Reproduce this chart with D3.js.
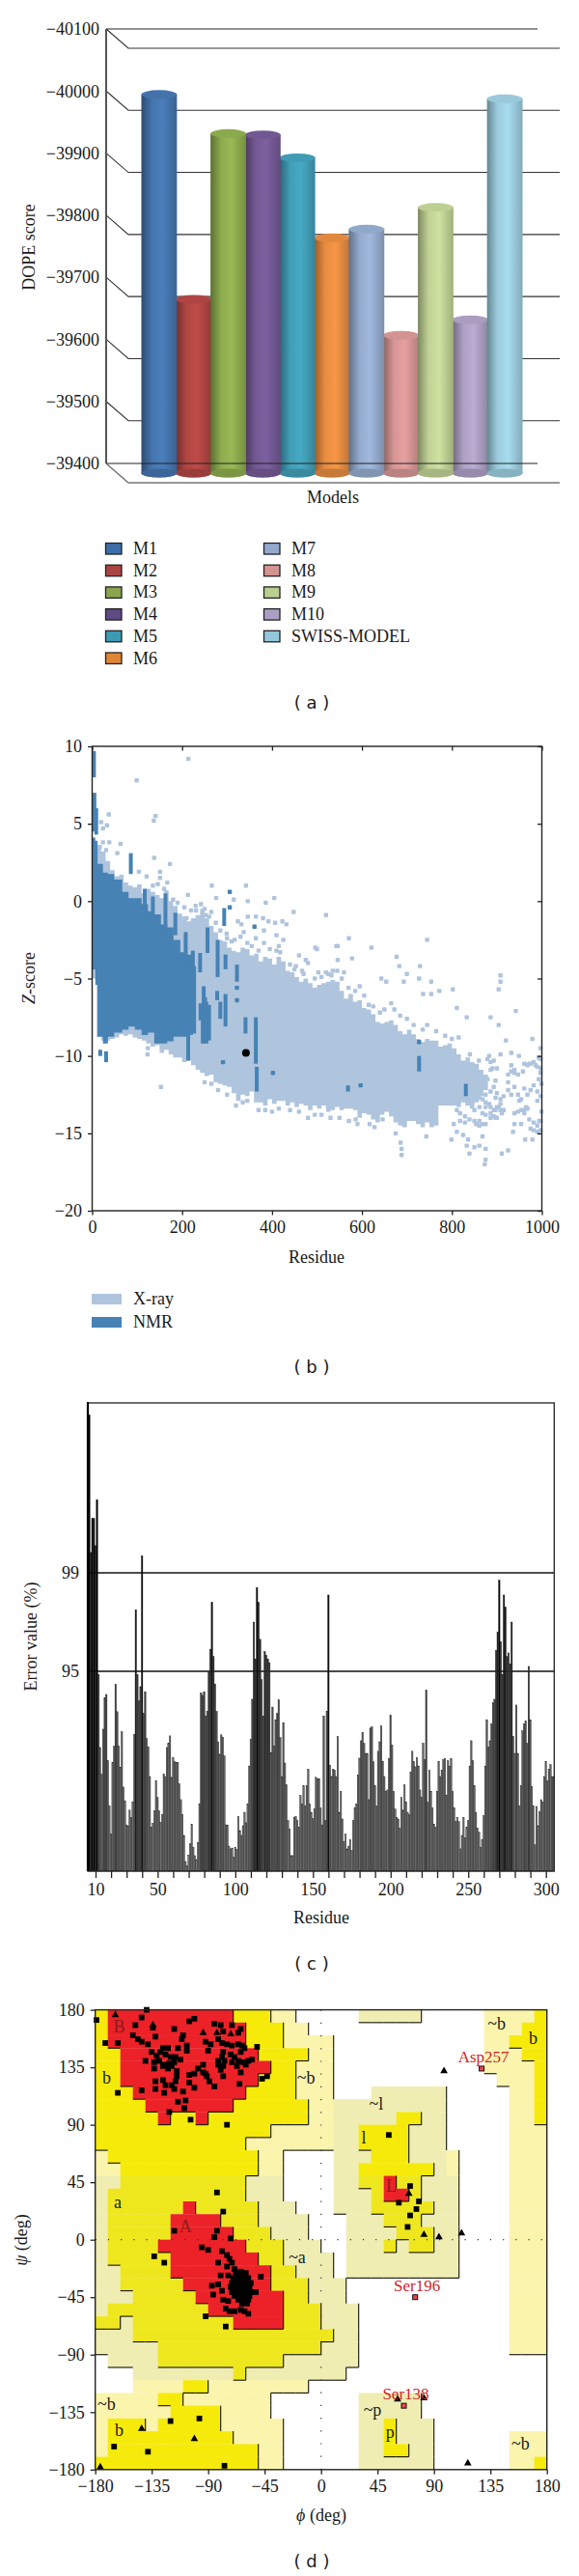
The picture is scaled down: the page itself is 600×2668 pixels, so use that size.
<!DOCTYPE html>
<html>
<head>
<meta charset="utf-8">
<script src="https://d3js.org/d3.v7.min.js"></script>
<style>
	html, body { margin: 0; padding: 0; background: #fff; }
	svg { display: block; }
	text { font-family: "Liberation Serif", serif; font-size: 18px; fill: #1a1a1a; }
	.caption { font-family: "DejaVu Sans", sans-serif; text-anchor: middle; dominant-baseline: central; white-space: pre; }
	.domain { display: none; }
</style>
</head>
<body>
<svg></svg>
<script>
// (a) DOPE score
const modelNames = ['M1', 'M2', 'M3', 'M4', 'M5', 'M6', 'M7', 'M8', 'M9', 'M10', 'SWISS-MODEL'];
const modelValues = [-40010, -39680, -39947, -39945, -39908, -39779, -39793, -39622, -39828, -39647, -40003];
const modelColors = ['#4a7ebb', '#be4b48', '#98b954', '#7d60a0', '#46aac5', '#f79646', '#a0b8dd', '#e6a1a0', '#cfe2a0', '#baacd2', '#a7dcef'];
const legendColors = ['#3e6ea9', '#aa4442', '#89a54e', '#5f4a84', '#3c9ab2', '#e08535', '#93a9d0', '#d49492', '#b8cf90', '#ac9fc5', '#93c7dc'];
const dopeTicks = [-40100, -40000, -39900, -39800, -39700, -39600, -39500, -39400];

// (b) Z-score, dense clouds kept as upper/lower envelopes per residue bin
const xrayResidue = d3.range(0, 890, 10);
const xrayUpper = [3, 3.6, 3.2, 2.6, 2, 1.6, 1.7, 1.2, 1, 0.9, 1.1, 0.5, 0.8, 0.6, 0.4, 0.2, 0.7, 0, -0.3, -0.8, -1, -1.3, -1.1, -0.9, -0.5, -1.1, -1.6, -2, -2.5, -2.6, -3, -3.2, -3.3, -3, -3.1, -3.5, -3.4, -3.9, -3.6, -3.7, -4.1, -3.6, -3.9, -4.5, -4.6, -4.9, -5.2, -5, -5.3, -5.6, -5.4, -5.3, -5.2, -5.1, -5.2, -5.8, -6.3, -6, -6.5, -6.4, -6.9, -7, -7.3, -7.8, -7.9, -7.8, -7.7, -8, -8.4, -8.6, -8.3, -8.6, -8.9, -9.1, -8.9, -9, -9, -9.4, -9.3, -9.2, -9.5, -9.9, -10.3, -10.1, -10.4, -10.5, -10.9, -11.2, -11.3];
const xrayLower = [-5, -8.75, -9, -9, -8.9, -8.8, -8.6, -8.7, -8.6, -8.8, -8.9, -9, -9.2, -9.4, -9.3, -9.8, -9.6, -9.9, -10.1, -10.1, -10.4, -10.3, -10.6, -10.9, -11.1, -11.3, -11.2, -11.7, -11.8, -11.9, -12, -12.4, -12.9, -12.5, -12.6, -12.3, -13, -13, -13.2, -12.8, -13.1, -12.9, -12.9, -13.2, -13, -13.3, -13.1, -13.2, -13.5, -13.2, -13.4, -13.2, -13.6, -13.5, -13.3, -13.5, -13.4, -13.4, -13.5, -14, -13.7, -13.8, -14.1, -14.3, -13.8, -13.6, -13.9, -14.3, -14.5, -14.6, -14.2, -14.2, -14.4, -14.6, -14.3, -14.6, -14.5, -13.2, -13.2, -13.2, -13.2, -13.3, -13, -13.2, -13.4, -13, -12.6, -12.2, -11.8];
const xrayPoints = [[214, 9.2], [99, 7.8], [37, 5.6], [141, 5.5], [137, 5.2], [20, 5.1], [33, 4.9], [24, 4.7], [63, 3.7], [38, 3.8], [24, 3.8], [17, 3.5], [31, 3.3], [56, 3.1], [138, 2.8], [173, 2.4], [104, 1.9], [151, 1.9], [121, 1.6], [151, 1.5], [135, 1], [146, 1.1], [167, 1.2], [160, 0.8], [266, 1], [342, 1], [405, 0.2], [276, 0.2], [315, 0.1], [346, 0], [386, -0.1], [213, 0.4], [448, -0.7], [520, -0.9], [364, -1], [346, -1], [324, -1.3], [332, -1.5], [380, -1.1], [392, -1.3], [407, -1.4], [423, -1.3], [432, -1.5], [242, -0.2], [231, -0.6], [253, -0.9], [210, -1.1], [224, -1.3], [239, -1.4], [265, -0.7], [382, -1.9], [410, -2.2], [425, -2.5], [382, -2.7], [317, -2.5], [337, -2], [299, -2.1], [364, -2.4], [543, -2.9], [496, -3], [460, -3.5], [475, -3.8], [453, -4.2], [467, -4.5], [503, -4.6], [532, -4.8], [480, -4], [153, -12], [124, -9.5], [123, -9.9],
	[571, -2.4], [745, -2.5], [500, -3.1], [546, -2.9], [621, -3], [677, -3.6], [546, -3.8], [578, -3.7], [683, -4.2], [729, -4.2], [700, -4.7], [693, -5.2], [643, -5], [654, -5.2], [727, -5], [754, -5.2], [772, -5.8], [754, -6], [736, -6], [802, -5.7], [908, -4.8], [908, -5.2], [904, -5.7], [811, -6.9], [833, -7.5], [886, -7.5], [904, -8], [942, -7.1], [920, -9], [979, -8.9], [997, -9.5], [883, -10], [908, -9.9], [932, -9.8], [949, -10], [975, -10.5], [997, -10.8], [886, -10.4], [900, -10.8], [932, -11], [897, -11.6], [925, -11.7], [961, -12.1], [993, -11.5], [872, -11.9], [875, -12.5], [897, -12.7], [932, -12.5], [950, -12.9], [990, -12.9], [875, -13.3], [897, -13.5], [961, -13.5], [972, -14.1], [994, -14.2], [868, -14.4], [897, -14], [939, -14.4], [954, -14.4], [975, -14.7], [997, -14.8], [936, -14.9], [963, -15.4], [979, -15.4], [799, -15.4], [743, -15.2], [811, -14.9], [825, -15.1], [836, -15.4], [868, -15.2], [850, -15.9], [875, -16], [839, -16.3], [875, -16.7], [873, -17], [911, -16.3], [925, -16.1], [686, -15.6], [688, -16], [688, -16.4], [675, -15], [833, -15.8], [861, -15.8], [804, -14.4], [818, -14.2], [854, -14.4], [886, -13.7], [904, -13.3], [911, -13.7], [883, -13.1], [879, -10.2], [890, -10.8], [925, -11.2], [939, -11.1], [958, -11], [972, -10.5], [986, -10.6], [993, -10.1], [997, -11.1], [861, -12.7], [868, -13.7], [861, -14.2], [954, -13.5], [965, -13.3], [939, -13.7], [571, -14.2], [586, -14.1], [617, -14.4], [628, -14.6], [646, -14.1], [999, -11.8], [999, -13.6],
	[893, -10.3], [886, -10.9], [932, -10.6], [939, -10.9], [947, -11.2], [961, -10.5], [968, -10.6], [982, -10.4], [990, -10.7], [997, -10.2], [886, -13.3], [893, -13.5], [900, -13.3], [908, -13.5], [915, -13.5], [893, -13.9], [900, -14], [908, -13.1], [886, -14], [961, -13.7], [968, -13.4], [947, -13.6], [982, -14.3], [990, -14.5], [997, -14.2], [982, -14.8], [990, -14.9], [875, -14.4], [861, -14.5], [850, -14.2], [839, -14.1], [829, -13.9], [818, -13.7], [811, -13.5], [829, -14.3], [875, -13.8], [850, -13.5], [861, -13.3], [875, -13], [868, -12.8], [886, -12.3], [879, -11.5], [893, -12], [900, -12.4], [908, -12.8], [915, -12.6], [925, -12.2], [939, -12], [947, -12.5], [954, -12.8], [968, -12.5], [975, -12.2], [982, -11.9], [990, -12.3], [997, -12.6],
	[410, -3.2], [418, -3.3], [415, -2.9], [440, -4.1], [450, -4.4], [470, -4.7], [495, -5], [510, -4.9], [520, -4.6], [525, -4.7], [535, -4.5], [545, -4.5], [555, -5], [560, -4.6], [570, -5.6], [585, -5.8], [595, -5.5], [605, -6.1], [615, -6.7], [625, -6.8], [640, -7.2], [650, -7], [665, -6.6], [672, -7], [685, -7.4], [700, -7.6], [715, -8], [735, -8.3], [745, -8], [765, -8.4], [785, -8.7], [800, -8.9], [815, -8.8], [840, -9.9], [860, -10.3],
	[180, 0.1], [190, -0.1], [205, -0.4], [220, -0.6], [230, -0.3], [250, -0.5], [260, -1], [275, -1.4], [285, -1.9], [300, -2.4], [310, -2.6], [330, -2.3], [345, -2.7], [355, -2.9], [370, -3.2], [395, -3.1],
	[250, -11.7], [265, -11.8], [280, -12.2], [300, -12.5], [320, -13.2], [335, -13], [345, -12.9], [370, -13.5], [385, -13.5], [400, -13.6], [415, -13.4], [440, -13.5], [460, -13.6], [480, -14], [495, -13.8], [510, -13.8], [530, -14], [550, -14], [590, -14.4]];
const nmrResidue = [0, 7, 12, 24, 35, 49, 67, 81, 95, 110, 124, 138, 153, 167, 181, 196, 210, 224, 231];
const nmrUpper = [4.1, 3.9, 2.4, 1.85, 1.75, 1.4, 0.6, 0.2, 0.2, -0.2, -0.65, -0.85, -1.5, -1.7, -2.5, -3.3, -3.45, -4.2, -5.4];
const nmrLower = [-4.4, -5.4, -8.75, -9.2, -8.75, -8.5, -8.3, -8.1, -8.3, -8.65, -8.5, -9.2, -9.2, -9.05, -8.75, -8.75, -8.65, -8.55, -7.7];
// vertical runs of NMR structures: residue, top, bottom
const nmrStrips = [[4, 9.7, 8], [5, 7, 4.5], [9, 6, 4.3], [86, 3.1, 1.75], [117, 0.8, -0.65], [135, 0.3, -1.3], [163, 0.5, -2.1], [185, -0.75, -2.2], [208, -2, -4.6], [224, -3.2, -5], [240, -3.35, -4.6], [256.5, -1.7, -3.35], [279, -2.5, -4.9], [296.5, -3.45, -4.4], [293.6, -0.45, -1.6], [322, -4.1, -5.2], [213.5, -8.55, -10.3], [248, -5.5, -7.1], [260, -6.7, -9], [246, -6.7, -9.2], [254, -6.5, -9.2], [241, -6.6, -7.7], [251, -6.2, -9], [278, -5.8, -6.4], [285, -6.5, -7.6], [296.5, -6, -8.1], [341, -7.5, -8.55], [364, -7.5, -10.5], [366, -10.7, -12.3], [31, -9.7, -10.4], [18, -9.6, -10], [569, -11.9, -12.3], [727, -10, -11], [831, -11.8, -12.6]];
const nmrPoints = [[291, -10.4], [402, -11.1], [361, -1.65], [306, 0.6], [306, -0.4], [322, -6.4], [322, -5.6], [597, -11.9], [727, -9.1]];
const queryPoint = [[342, -9.8]];

// (c) error value per residue, residue 6 onwards
const errorValues = [99.93, 99.12, 99.32, 99.32, 99.16, 99.43, 93.5, 58.8, 46, 67.5, 82.5, 84, 52.5, 31, 17.7, 51.7, 59.3, 88.8, 75.8, 59.6, 49.3, 66.2, 40, 33.5, 22, 21.6, 29, 25.6, 32.7, 65, 97.5, 93.5, 81, 87.7, 99.1, 75, 85.3, 63, 59, 45, 21, 22.8, 28.8, 43, 35, 28.6, 23.2, 27, 46, 45, 58.8, 60.7, 64.3, 44.6, 54, 52, 51.7, 51.7, 41.4, 34, 27, 17, 4.6, 2.4, 7.7, 13, 22.4, 11.4, 7.4, 5.5, 13.7, 32, 84.8, 83.6, 85.3, 73.8, 76, 95, 95.9, 97.8, 95.6, 89, 76, 61.5, 55.6, 64.8, 63.7, 54.8, 22, 22, 11.9, 10.6, 11, 6.6, 11.4, 10.3, 26, 19.3, 17, 21.6, 28, 23, 32, 50, 62.7, 81.7, 97, 95.5, 98.4, 97.8, 96.3, 91, 73.8, 95.8, 95.65, 95.5, 95.35, 56.4, 78, 59.6, 72, 75, 81.4, 63.5, 45, 70.6, 51.4, 41, 24, 20, 7.4, 7.4, 25.6, 26, 24, 21, 36, 32, 40.6, 31, 40.6, 48.5, 32, 28, 25, 29.5, 44.6,
	44, 44, 30, 22, 73.8, 24, 76, 98.1, 50.4, 45, 48.5, 48, 45, 64, 28, 38, 24.8, 14, 17.7, 10.6, 11.9, 15, 9.8, 24, 30, 32, 45.8, 53.7, 62, 66, 60.7, 56, 56, 34, 68, 68.6, 52, 40.6, 31, 57, 61.5, 69, 52, 45, 38, 38.6, 53.6, 74, 60, 38, 29.5, 25.6, 24.8, 20.5, 35, 29, 41, 33, 28, 27, 47, 57, 52, 49.6, 54, 50, 38.6, 35, 60.8, 53, 86, 32.7, 48, 38, 30, 22.4, 21, 38, 52, 45, 48, 53, 53.6, 36, 52.5, 50, 53.6, 38, 30, 23.7, 25.6, 23.5, 10.6, 17, 25.6, 15.8, 20.9, 24, 50, 62, 52.5, 40.6, 28, 20.5, 18.5, 11.4, 15, 26.4, 50, 72, 59, 62, 70, 80, 81.7, 95.85, 96.6, 98.7, 96.2, 93.5, 98.1, 97.6, 95.6, 95.75, 95.3, 97, 64, 56, 79, 56, 31, 40.6, 66.7, 70, 71.4, 60.7, 95.2, 72, 40.3, 31, 12.5, 30.8, 21.6, 28.4, 34, 33, 45, 52, 43, 48.5, 50.6, 45, 45];
const errorResidue = errorValues.map((d, i) => 6 + i);
const errorLabelTicks = [10, 50, 100, 150, 200, 250, 300];
const errorMinorTicks = d3.range(10, 310, 10);
const errorLines = [95, 99];

// (d) Ramachandran: 10 degree cells, psi 180 at the top, phi -180 at the left.
// . outside, p generous, y allowed, r most favoured
const ramaRows = [
	'yrrrrr rrrrry yypp.. ...ppp pp.... .ppppy',
	'yrrrrr rrrrrr yyypp. ...... ...... .pppyy',
	'yrrrrr rrrrrr yyyppp p..... ...... .ppyyy',
	'yyrrrr rrrrrr ryyyyp p..... ...... .pppyy',
	'yyrrrr rrrrrr rryypp p..... ...... .ppppy',
	'yyrrrr rrrrrr ryyypp p..... ...... ..pppy',
	'yyyrrr rrrrrr yyyypp p...pp pppp.. ...ppy',
	'yyyyrr rrrrry yyyyyp pppppp pppp.. ...ppy',
	'yyyyyr yyryyy yyyyyp pppppp yypp.. ...ppy',
	'yyyyyy yyyyyy yypppp pppyyy yppp.. ...ppp',
	'yyyyyy yyyyyy pppppp pppyyy yppp.. ...ppp',
	'pyyyyy yyyyyy ypp... .pppyy ypppp. ...ppp',
	'ppyyyy yyyyyy ypp... .ppyyy yyypp. ...ppp',
	'ppyyyy yyyyyy ppp... .ppyyr yyppp. ...ppp',
	'pyyyyy yyyyyy ppp... .pppyr ryppp. ...ppp',
	'pyyyyy yryyyy yppp.. .pppyy yyypp. ...ppp',
	'pyyyyy rrrryy ypppp. ..pppy yyppp. ...ppp',
	'pyyyyy rrrrry yyppp. ..pppp yyypp. ...ppp',
	'pyyyyr rrrrrr yyyppp ..pppy pyypp. ...ppp',
	'pyyyyy rrrrrr ryyppp p.pppp ppppp. ...ppp',
	'ppyyyy rrrrrr rryypp p.pppp ppppp. ...ppp',
	'ppyyyy yrrrrr rryyyp pp.... ...... ...ppp',
	'pppyyy yyrrrr rrryyp pp.... ...... ...ppp',
	'pyyyyy yyyrrr rrryyy ppp... ...... ...ppp',
	'yypyyy yyyyyr rrryyy ppp... ...... ...ppp',
	'pppyyy yyyyyy yyyyyy ypp... ...... ...ppp',
	'pppppy yyyyyy yyyyyy ppp... ...... ...ppp',
	'.ppppy yyyyyy yyyppp ppp... ...... ......',
	'...ppp pppppy pppppp pp.... ...... ......',
	'...ppp pyyppp ppppp. ...... ...... ......',
	'pppppy yppppp pp.... ...ppp pp.... ......',
	'pppppp yyyypp pp.... ...ppp pp.... ......',
	'pyyypy yyyypp ppp... ...ppy ppp... ......',
	'pyyyyy yyyyyp ppp... ...ppy ppp... ...ppp',
	'pyyyyy yyyyyy ypp... ...ppy ypp... ...ppp',
	'yyyyyy yyyyyy ypp... ...ppp ppp... ...ppy'
];
const residueSquares = [[-179, 172], [-139, 180], [-143, 174], [-148, 168], [-134, 166], [-150, 160], [-132, 159], [-117, 165], [-105, 171], [-101, 173], [-85, 169], [-80, 168], [-71, 168], [-64, 165], [-66, 162], [-78, 163], [-110, 160], [-111, 157], [-172, 154], [-162, 154], [-146, 157], [-143, 155], [-138, 153], [-92, 155], [-88, 153], [-82, 157], [-79, 154], [-75, 153], [-71, 152], [-66, 153], [-63, 152], [-51, 151], [-107, 152], [-107, 148], [-114, 150], [-126, 150], [-122, 150], [-135, 147], [-131, 144], [-128, 147], [-124, 145], [-120, 143], [-116, 143], [-112, 141], [-140, 140], [-133, 139], [-129, 140], [-125, 137], [-121, 138], [-117, 139], [-133, 134], [-126, 136], [-122, 134], [-119, 136], [-115, 132], [-90, 148], [-78, 147], [-72, 145], [-69, 143], [-64, 147], [-61, 150], [-79, 143], [-82, 140], [-77, 140], [-71, 139], [-66, 140], [-62, 139], [-58, 140], [-55, 141], [-82, 137], [-78, 136], [-67, 136], [-64, 131], [-60, 137], [-80, 133], [-78, 128], [-65, 122], [-94, 137], [-98, 134], [-101, 130], [-105, 129], [-94, 131], [-91, 128], [-92, 130], [-105, 123], [-101, 119], [-89, 124], [-85, 120], [-115, 128], [-116, 124], [-119, 121], [-132, 124], [-126, 125], [-124, 121], [-132, 118], [-143, 117], [-125, 115], [-117, 118], [-110, 116], [-114, 108], [-108, 109], [-109, 103], [-121, 100], [-104, 94], [-75, 90], [-162, 115], [-47, 126], [-43, 128],
	[-83, 37], [-78, 22], [-117, 7], [-83, 7], [-85, 2], [-72, 1], [-133, -13], [-125, -18], [-95, -6], [-90, -8], [-79, -9], [-75, -12], [-73, -15], [-71, -18], [-82, -18], [-75, -21], [-69, -23], [-80, -28], [-74, -28], [-87, -36], [-82, -35], [-79, -40], [-86, -43], [-78, -47], [-74, -48], [-76, -54], [-73, -56], [-69, -56], [-64, -55], [-61, -56], [-58, -58], [-92, -60], [-76, -68], [-48, -29], [-52, -41],
	[-68, -26], [-64, -25], [-60, -26], [-70, -30], [-66, -29], [-62, -29], [-58, -30], [-71, -34], [-67, -33], [-63, -33], [-59, -33], [-56, -34], [-72, -37], [-68, -37], [-64, -37], [-60, -37], [-57, -38], [-71, -41], [-67, -40], [-63, -41], [-59, -41], [-56, -41], [-69, -44], [-65, -44], [-61, -44], [-57, -44], [-66, -47], [-62, -47], [-58, -47], [-63, -50], [-59, -50],
	[-120, -142], [-97, -140], [-165, -162], [-138, -166], [-77, -177], [54, 82], [71, 42], [62, 29], [78, 30], [76, 24], [71, 19], [69, 10]];
const residueTriangles = [[-164, 176], [-134, 168], [-94, 162], [-83, 162], [-72, 161], [-143, -148], [-101, -156], [-176, -178], [70, 36], [82, 4], [94, 2], [112, 5], [98, 132], [117, -175], [61, -125], [82, -124]];
const outliers = [['Asp257', 128, 134], ['Ser196', 75, -45], ['Ser138', 66, -130]];
const regionLabels = [['B', -161, 167], ['b', -171, 127], ['a', -162, 29], ['A', -108, 10], ['~b', -12, 127], ['~a', -19, -14], ['~b', -171, -129], ['b', -161, -149], ['~b', 140, 169], ['b', 169, 158], ['~l', 44, 106], ['l', 34, 80], ['L', 56, 42], ['~p', 41, -133], ['p', 55, -151], ['~b', 159, -160]];
const ramaTicks = [-180, -135, -90, -45, 0, 45, 90, 135, 180];

const svg = d3.select('svg')
	.attr('width', 600)
	.attr('height', 2668);
const defs = svg.append('defs');

const caption = (label, y) => svg.append('text')
	.attr('class', 'caption')
	.attr('x', 323)
	.attr('y', y)
	.text(`( ${label} )`);

const yLabel = (g, x, y) => g.append('text')
	.attr('transform', `translate(${x}, ${y}) rotate(-90)`)
	.attr('text-anchor', 'middle')
	.attr('dominant-baseline', 'central');

const centerText = (x, y, text) => svg.append('text')
	.attr('x', x)
	.attr('y', y)
	.attr('text-anchor', 'middle')
	.attr('dominant-baseline', 'central')
	.text(text);

// ---------- panel a ----------
const renderDope = () => {
	const g = svg.append('g');
	const yScale = d3.scaleLinear().domain([-39400, -40100]).range([480, 30]);
	const xScale = d3.scaleBand().domain(modelNames).range([147, 541]);
	const depth = { x: 23, y: 20 };
	const barY = v => yScale(v) + 10;
	const ry = 4.5;

	// slanted side wall and back wall
	dopeTicks.forEach(t => {
		const y = yScale(t);
		g.append('path')
			.attr('d', `M110,${y}L${110 + depth.x},${y + depth.y}H580`)
			.attr('fill', 'none')
			.attr('stroke', t === -39400 ? '#777' : '#333')
			.attr('stroke-width', t === -39400 ? 1.6 : 1.1);
	});
	g.append('line')
		.attr('x1', 110).attr('x2', 557)
		.attr('y1', yScale(-40100)).attr('y2', yScale(-40100))
		.attr('stroke', '#222').attr('stroke-width', 1.2);

	const bars = modelNames.map((name, i) => ({ name, value: modelValues[i], color: modelColors[i], i }))
		.sort((a, b) => d3.ascending(barY(a.value) * -1, barY(b.value) * -1));

	bars.forEach(d => {
		const c = d3.color(d.color);
		const grad = defs.append('linearGradient').attr('id', `bar${d.i}`);
		grad.append('stop').attr('offset', 0).attr('stop-color', c.darker(1.4));
		grad.append('stop').attr('offset', 0.3).attr('stop-color', c.darker(0.2));
		grad.append('stop').attr('offset', 0.6).attr('stop-color', c);
		grad.append('stop').attr('offset', 1).attr('stop-color', c.darker(0.7));

		const x = xScale(d.name) - 0.5;
		const w = xScale.bandwidth() + 1;
		const rx = w / 2;
		const top = barY(d.value);
		const base = barY(-39400);
		g.append('path')
			.attr('d', `M${x},${top}V${base}A${rx},${ry} 0 0 0 ${x + w},${base}V${top}Z`)
			.attr('fill', `url(#bar${d.i})`);
		g.append('ellipse')
			.attr('cx', x + rx).attr('cy', base)
			.attr('rx', rx).attr('ry', ry)
			.attr('fill', c.darker(0.6));
		g.append('ellipse')
			.attr('cx', x + rx).attr('cy', top)
			.attr('rx', rx).attr('ry', ry)
			.attr('fill', c.darker(0.25));
	});

	g.append('line')
		.attr('x1', 110).attr('x2', 557)
		.attr('y1', yScale(-39400)).attr('y2', yScale(-39400))
		.attr('stroke', '#222').attr('stroke-width', 1.1);
	g.append('line')
		.attr('x1', 110).attr('x2', 110)
		.attr('y1', yScale(-40100)).attr('y2', yScale(-39400))
		.attr('stroke', '#555').attr('stroke-width', 2);

	const axis = g.append('g')
		.attr('transform', 'translate(110, 0)')
		.call(d3.axisLeft(yScale).tickValues(dopeTicks).tickSize(0).tickPadding(7).tickFormat(d3.format('d')));
	axis.selectAll('text').style('font-size', '18px').style('font-family', '"Liberation Serif", serif');

	yLabel(g, 30, 256).text('DOPE score');
	centerText(345, 515, 'Models');

	const rows = 6;
	modelNames.forEach((name, i) => {
		const col = i < rows ? 0 : 1;
		const row = i < rows ? i : i - rows;
		const x = col === 0 ? 109.5 : 273.5;
		const y = 562.5 + row * 22.7;
		g.append('rect')
			.attr('x', x).attr('y', y)
			.attr('width', 16.5).attr('height', 11.5)
			.attr('fill', legendColors[i])
			.attr('stroke', '#222').attr('stroke-width', 1.3);
		g.append('text')
			.attr('x', x + 28.5).attr('y', y + 5.5)
			.attr('dominant-baseline', 'central')
			.text(name);
	});
	caption('a', 727);
};

// ---------- panel b ----------
const renderZScore = () => {
	const g = svg.append('g');
	const xScale = d3.scaleLinear().domain([0, 1000]).range([95.5, 561.5]);
	const yScale = d3.scaleLinear().domain([10, -20]).range([773, 1254]);
	const light = '#afc4dd';
	const dark = '#4682b4';

	const band = (xs, up, lo, color) => g.append('path')
		.datum(xs.map((x, i) => ({ x, up: up[i], lo: lo[i] })))
		.attr('d', d3.area()
			.curve(d3.curveStepAfter)
			.x(d => xScale(d.x))
			.y0(d => yScale(d.lo))
			.y1(d => yScale(d.up)))
		.attr('fill', color);

	const dots = (pts, color) => g.append('g').selectAll('rect')
		.data(pts)
		.enter().append('rect')
		.attr('x', d => xScale(d[0]) - 2.2)
		.attr('y', d => yScale(d[1]) - 2.2)
		.attr('width', 4.4)
		.attr('height', 4.4)
		.attr('rx', 0.8)
		.attr('fill', color);

	band(xrayResidue, xrayUpper, xrayLower, light);
	dots(xrayPoints, light);
	band(nmrResidue, nmrUpper, nmrLower, dark);
	g.append('g').selectAll('rect')
		.data(nmrStrips)
		.enter().append('rect')
		.attr('x', d => xScale(d[0]) - 2)
		.attr('y', d => yScale(d[1]))
		.attr('width', 4)
		.attr('height', d => yScale(d[2]) - yScale(d[1]))
		.attr('fill', dark);
	dots(nmrPoints, dark);
	g.selectAll('circle')
		.data(queryPoint)
		.enter().append('circle')
		.attr('cx', d => xScale(d[0]))
		.attr('cy', d => yScale(d[1]))
		.attr('r', 4)
		.attr('fill', '#000');

	g.append('rect')
		.attr('x', 95.5).attr('y', 773)
		.attr('width', 466).attr('height', 481)
		.attr('fill', 'none')
		.attr('stroke', '#222').attr('stroke-width', 1.4);

	const xTicks = [0, 200, 400, 600, 800, 1000];
	const yTicks = [10, 5, 0, -5, -10, -15, -20];
	const axes = [
		g.append('g').attr('transform', 'translate(0, 1254)').call(d3.axisBottom(xScale).tickValues(xTicks).tickSize(4.5).tickPadding(6).tickFormat(d3.format('d'))),
		g.append('g').attr('transform', 'translate(95.5, 0)').call(d3.axisLeft(yScale).tickValues(yTicks).tickSize(4.5).tickPadding(6).tickFormat(d3.format('d'))),
		g.append('g').attr('transform', 'translate(0, 773)').call(d3.axisBottom(xScale).tickValues(xTicks).tickSize(4.5).tickFormat('')),
		g.append('g').attr('transform', 'translate(561.5, 0)').call(d3.axisLeft(yScale).tickValues(yTicks).tickSize(4.5).tickFormat(''))
	];
	axes.forEach(a => a.selectAll('text').style('font-size', '18px').style('font-family', '"Liberation Serif", serif'));
	axes.forEach(a => a.selectAll('line').attr('stroke', '#222').attr('stroke-width', 1.3));

	const zLabel = yLabel(g, 30, 1013);
	zLabel.append('tspan').attr('font-style', 'italic').text('Z');
	zLabel.append('tspan').text('-score');
	centerText(328, 1302, 'Residue');

	[['X-ray', light, 1340], ['NMR', dark, 1364]].forEach(d => {
		g.append('rect')
			.attr('x', 95).attr('y', d[2])
			.attr('width', 31).attr('height', 11)
			.attr('fill', d[1]);
		g.append('text')
			.attr('x', 138).attr('y', d[2] + 5)
			.attr('dominant-baseline', 'central')
			.text(d[0]);
	});
	caption('b', 1415);
};

// ---------- panel c ----------
const renderError = () => {
	const g = svg.append('g');
	const xScale = d3.scaleLinear().domain([10, 300]).range([99, 565.7]);
	// the error axis is not linear: only 95 and 99 are marked
	const yScale = d3.scaleLinear().domain([0, 95, 99, 100]).range([1938, 1731, 1629, 1453]);
	const shade = d3.scaleLinear().domain([0, 60, 95, 99]).range(['#777', '#666', '#383838', '#000']);
	const step = xScale(11) - xScale(10);

	errorLines.forEach(v => {
		g.append('line')
			.attr('x1', 91).attr('x2', 574.3)
			.attr('y1', yScale(v)).attr('y2', yScale(v))
			.attr('stroke', '#111').attr('stroke-width', 1.3);
		g.append('text')
			.attr('x', 82).attr('y', yScale(v))
			.attr('text-anchor', 'end')
			.attr('dominant-baseline', 'central')
			.text(v);
	});

	g.selectAll('.err')
		.data(errorValues)
		.enter().append('rect')
		.attr('class', 'err')
		.attr('x', (d, i) => xScale(errorResidue[i]) - step / 2)
		.attr('y', d => yScale(d))
		.attr('width', step - 0.15)
		.attr('height', d => yScale(0) - yScale(d))
		.attr('fill', d => shade(d))
		.attr('stroke', '#1c1c1c')
		.attr('stroke-width', 0.4);

	g.append('rect')
		.attr('x', 91).attr('y', 1453)
		.attr('width', 483.3).attr('height', 485)
		.attr('fill', 'none')
		.attr('stroke', '#222').attr('stroke-width', 1.3);
	g.append('line')
		.attr('x1', 91).attr('x2', 91)
		.attr('y1', 1452).attr('y2', 1938)
		.attr('stroke', '#000').attr('stroke-width', 2.2);

	const ticks = g.append('g')
		.attr('transform', 'translate(0, 1938)')
		.call(d3.axisBottom(xScale).tickValues(errorMinorTicks).tickSize(7).tickPadding(5)
			.tickFormat(d => errorLabelTicks.includes(d) ? d : ''));
	ticks.selectAll('line').attr('stroke', '#222').attr('stroke-width', 1.3);
	ticks.selectAll('text').style('font-size', '18px').style('font-family', '"Liberation Serif", serif');

	yLabel(g, 32, 1695).text('Error value (%)');
	centerText(333, 1986, 'Residue');
	caption('c', 2033);
};

// ---------- panel d ----------
const renderRama = () => {
	const g = svg.append('g');
	const xScale = d3.scaleLinear().domain([-180, 180]).range([98.7, 566.7]);
	const yScale = d3.scaleLinear().domain([180, -180]).range([2081.6, 2557.8]);
	const rows = ramaRows.map(r => r.replace(/ /g, ''));
	const rank = { '.': 0, p: 1, y: 2, r: 3 };

	const cellColor = (c, col, row) => {
		const midBand = row >= 13 && row <= 28;
		if (c === 'r') return '#ec2228';
		if (c === 'y') return midBand ? '#efe71e' : '#f6ea0a';
		const muted = col < 30 && (midBand || (col >= 19 && col <= 27));
		return muted ? '#efedb2' : '#fbf4ad';
	};

	const cells = [];
	rows.forEach((r, row) => r.split('').forEach((c, col) => {
		if (c !== '.') cells.push({ c, col, row });
	}));
	g.selectAll('.cell')
		.data(cells)
		.enter().append('rect')
		.attr('class', 'cell')
		.attr('x', d => xScale(-180 + d.col * 10))
		.attr('y', d => yScale(180 - d.row * 10))
		.attr('width', xScale(10) - xScale(0) + 0.3)
		.attr('height', yScale(0) - yScale(10) + 0.3)
		.attr('fill', d => cellColor(d.c, d.col, d.row));

	// region outline only on the right and lower sides of a step
	const edges = [];
	rows.forEach((r, row) => r.split('').forEach((c, col) => {
		const here = rank[c];
		const right = col < 35 ? rank[r[col + 1]] : here;
		const below = row < 35 ? rank[rows[row + 1][col]] : here;
		const x1 = xScale(-180 + (col + 1) * 10);
		const y1 = yScale(180 - (row + 1) * 10);
		if (here > right) edges.push([x1, y1 - (yScale(0) - yScale(10)), x1, y1]);
		if (here > below) edges.push([x1 - (xScale(10) - xScale(0)), y1, x1, y1]);
	}));
	g.selectAll('.edge')
		.data(edges)
		.enter().append('line')
		.attr('class', 'edge')
		.attr('x1', d => d[0]).attr('y1', d => d[1])
		.attr('x2', d => d[2]).attr('y2', d => d[3])
		.attr('stroke', '#111').attr('stroke-width', 1.1);

	[[xScale(0), 2081.6, xScale(0), 2557.8], [98.7, yScale(0), 566.7, yScale(0)]].forEach(d => {
		g.append('line')
			.attr('x1', d[0]).attr('y1', d[1])
			.attr('x2', d[2]).attr('y2', d[3])
			.attr('stroke', '#333')
			.attr('stroke-width', 1.2)
			.attr('stroke-dasharray', '1.2 12');
	});

	regionLabels.forEach(d => {
		g.append('text')
			.attr('x', xScale(d[1])).attr('y', yScale(d[2]))
			.attr('text-anchor', 'middle')
			.attr('dominant-baseline', 'central')
			.style('fill', d[0] === 'B' || d[0] === 'A' || d[0] === 'L' ? '#8c1a1a' : '#1a1a1a')
			.text(d[0]);
	});

	g.append('g').selectAll('rect')
		.data(residueSquares)
		.enter().append('rect')
		.attr('x', d => xScale(d[0]) - 2.9)
		.attr('y', d => yScale(d[1]) - 2.9)
		.attr('width', 5.8)
		.attr('height', 5.8)
		.attr('fill', '#000');
	g.append('g').selectAll('path')
		.data(residueTriangles)
		.enter().append('path')
		.attr('d', d3.symbol(d3.symbolTriangle, 26))
		.attr('transform', d => `translate(${xScale(d[0])}, ${yScale(d[1])})`)
		.attr('fill', '#000');
	g.append('g').selectAll('rect')
		.data(outliers)
		.enter().append('rect')
		.attr('x', d => xScale(d[1]) - 2.5)
		.attr('y', d => yScale(d[2]) - 2.5)
		.attr('width', 5)
		.attr('height', 5)
		.attr('fill', '#e8484c')
		.attr('stroke', '#111')
		.attr('stroke-width', 1);
	g.append('g').selectAll('text')
		.data(outliers)
		.enter().append('text')
		.attr('x', d => xScale(d[1]) + 2)
		.attr('y', d => yScale(d[2]) - 12)
		.attr('text-anchor', 'middle')
		.attr('dominant-baseline', 'central')
		.style('fill', '#d0262c')
		.style('font-size', '17px')
		.text(d => d[0]);

	g.append('rect')
		.attr('x', 98.7).attr('y', 2081.6)
		.attr('width', 468).attr('height', 476.2)
		.attr('fill', 'none')
		.attr('stroke', '#222').attr('stroke-width', 1.4);

	const axes = [
		g.append('g').attr('transform', 'translate(0, 2557.8)').call(d3.axisBottom(xScale).tickValues(ramaTicks).tickSize(5).tickPadding(5).tickFormat(d3.format('d'))),
		g.append('g').attr('transform', 'translate(98.7, 0)').call(d3.axisLeft(yScale).tickValues(ramaTicks).tickSize(5).tickPadding(6).tickFormat(d3.format('d')))
	];
	axes.forEach(a => a.selectAll('text').style('font-size', '18px').style('font-family', '"Liberation Serif", serif'));
	axes.forEach(a => a.selectAll('line').attr('stroke', '#222').attr('stroke-width', 1.3));

	const phi = g.append('text')
		.attr('x', 333).attr('y', 2605)
		.attr('text-anchor', 'middle')
		.attr('dominant-baseline', 'central');
	phi.append('tspan').attr('font-style', 'italic').text('\u03d5');
	phi.append('tspan').text(' (deg)');
	const psi = yLabel(g, 22, 2320);
	psi.append('tspan').attr('font-style', 'italic').text('\u03c8');
	psi.append('tspan').text(' (deg)');
	caption('d', 2652);
};

renderDope();
renderZScore();
renderError();
renderRama();
</script>
</body>
</html>
